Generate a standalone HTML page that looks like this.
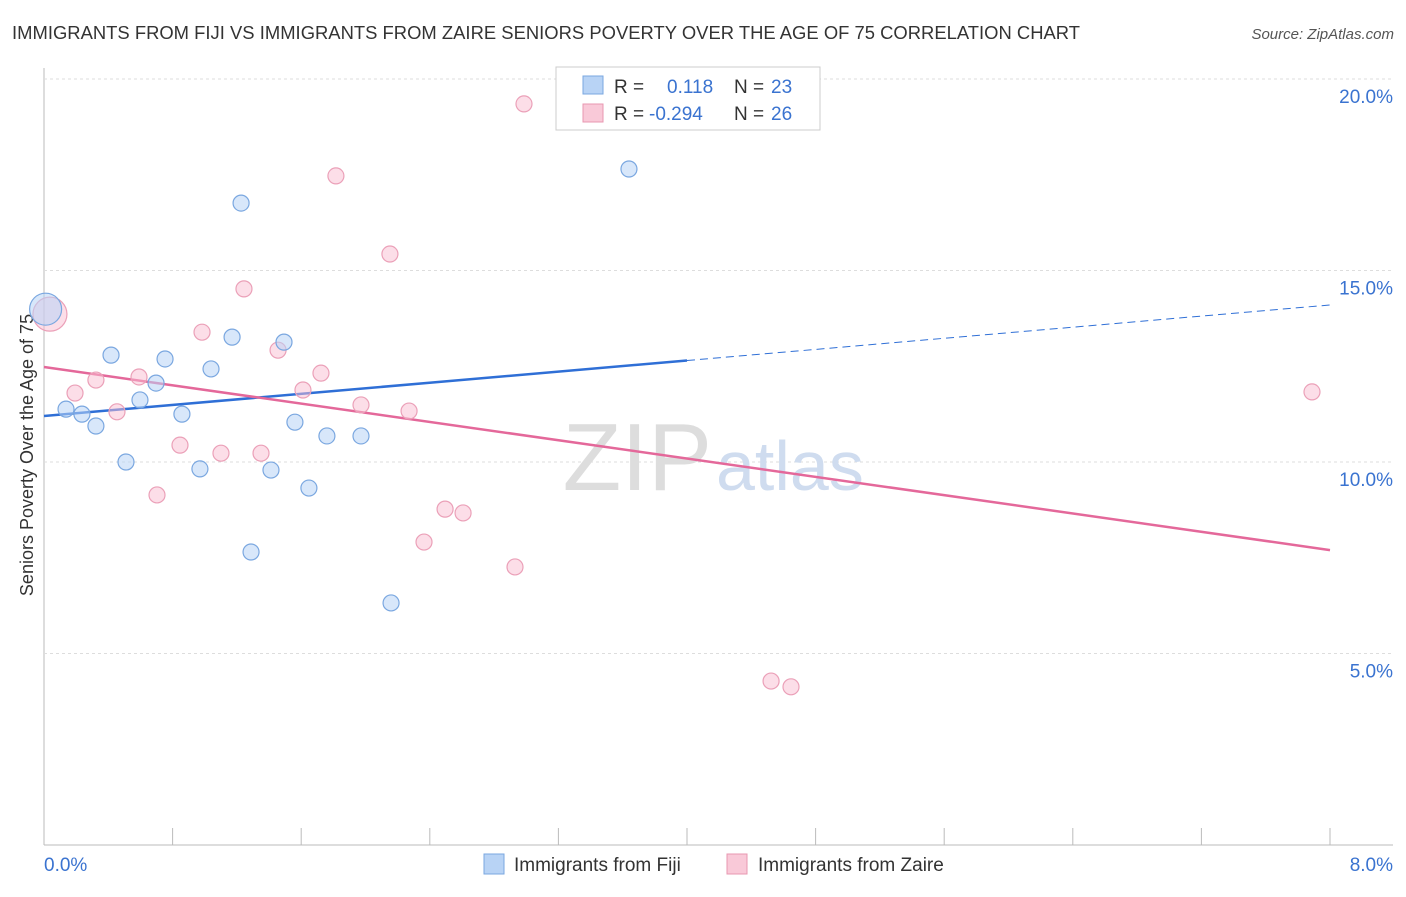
<!DOCTYPE html>
<html><head><meta charset="utf-8"><style>
body{margin:0;background:#fff;font-family:"Liberation Sans",sans-serif;}
svg text{font-family:"Liberation Sans",sans-serif;}
</style></head><body>
<svg id="chart" width="1406" height="892">
<text x="12" y="39" font-size="18.4" fill="#333" textLength="1068">IMMIGRANTS FROM FIJI VS IMMIGRANTS FROM ZAIRE SENIORS POVERTY OVER THE AGE OF 75 CORRELATION CHART</text>
<text x="1394" y="39" font-size="15" fill="#555" text-anchor="end" font-style="italic">Source: ZipAtlas.com</text>
<text x="33" y="455" font-size="18" fill="#333" text-anchor="middle" transform="rotate(-90 33 455)">Seniors Poverty Over the Age of 75</text>
<g id="grid"></g>
<text x="712" y="490" font-size="96" fill="#ddd" text-anchor="end" font-family="Liberation Serif">ZIP</text>
<text x="716" y="490" font-size="70" fill="#cfdcef">atlas</text>
<g id="lines"></g>
<g id="points"></g>
<g>
<rect x="556" y="67" width="264" height="63" fill="#fff" stroke="#ccc"/>
<rect x="583" y="76" width="20" height="18" fill="#b8d3f5" stroke="#7aa7e0"/>
<text x="614" y="93" font-size="19" fill="#333">R =</text><text x="667" y="93" font-size="19" fill="#3a73d0">0.118</text>
<text x="734" y="93" font-size="19" fill="#333">N =</text><text x="771" y="93" font-size="19" fill="#3a73d0">23</text>
<rect x="583" y="104" width="20" height="18" fill="#f9c9d8" stroke="#e897b0"/>
<text x="614" y="120" font-size="19" fill="#333">R =</text><text x="649" y="120" font-size="19" fill="#3a73d0">-0.294</text>
<text x="734" y="120" font-size="19" fill="#333">N =</text><text x="771" y="120" font-size="19" fill="#3a73d0">26</text>
</g>
<g>
<rect x="484" y="854" width="20" height="20" fill="#b8d3f5" stroke="#7aa7e0"/>
<text x="514" y="871" font-size="19" fill="#333">Immigrants from Fiji</text>
<rect x="727" y="854" width="20" height="20" fill="#f9c9d8" stroke="#e897b0"/>
<text x="758" y="871" font-size="19" fill="#333">Immigrants from Zaire</text>
</g>
</svg>
<script>
const xTicks=[0,0.8,1.6,2.4,3.2,4.0,4.8,5.6,6.4,7.2,8.0];
const yTicks=[5,10,15,20];
const fijiX=[0.01,0.137,0.236,0.323,0.417,0.51,0.597,0.697,0.753,0.858,0.97,1.039,1.17,1.226,1.288,1.412,1.493,1.561,1.648,1.76,1.972,2.159,3.639];
const fijiY=[13.99,11.38,11.25,10.94,12.79,10.0,11.62,12.06,12.69,11.25,9.82,12.43,13.26,16.76,7.65,9.79,13.13,11.04,9.32,10.68,10.68,6.32,17.65];
const zaireX=[0.037,0.193,0.323,0.454,0.591,0.703,0.846,0.983,1.101,1.244,1.35,1.456,1.611,1.723,1.816,1.972,2.152,2.271,2.364,2.495,2.607,2.93,2.986,4.523,4.647,7.888];
const zaireY=[13.86,11.8,12.14,11.31,12.22,9.14,10.44,13.39,10.23,14.52,10.23,12.92,11.88,12.32,17.47,11.49,15.43,11.33,7.91,8.77,8.67,7.26,19.35,4.28,4.13,11.83];
const fijiTrend=[11.2,14.1];
const zaireTrend=[12.48,7.7];
const NS="http://www.w3.org/2000/svg";
const X=v=>44+v*160.75, Y=v=>845-v*38.3;
function mk(t,a,p){const e=document.createElementNS(NS,t);for(const k in a)e.setAttribute(k,a[k]);p.appendChild(e);return e;}
const grid=document.getElementById('grid');
mk('line',{x1:44,y1:845,x2:1393,y2:845,stroke:'#bbb'},grid);
mk('line',{x1:44,y1:68,x2:44,y2:845,stroke:'#bbb'},grid);
yTicks.forEach(t=>{
 const l=mk('line',{x1:44,y1:Y(t),x2:1393,y2:Y(t),stroke:'#ddd','stroke-dasharray':'3,3'},grid);
 
 
 const tx=mk('text',{x:1393,y:Y(t)+24,'font-size':19,fill:'#3a73d0','text-anchor':'end'},grid);
 tx.textContent=t.toFixed(1)+'%';
 
 
});
xTicks.forEach(t=>{
 const l=mk('line',{x1:X(t),y1:828,x2:X(t),y2:845,stroke:'#bbb'},grid);
 
 
});
[[0,'start',44],[8,'end',1393]].forEach(([v,a,x])=>{
 const tx=mk('text',{x:x,y:871,'font-size':19,fill:'#3a73d0','text-anchor':a},grid);
 tx.textContent=v.toFixed(1)+'%';
 
 
});
const lines=document.getElementById('lines');
const f=x=>fijiTrend[0]+(fijiTrend[1]-fijiTrend[0])*x/8;
const z=x=>zaireTrend[0]+(zaireTrend[1]-zaireTrend[0])*x/8;
let l1=mk('line',{x1:X(0),y1:Y(f(0)),x2:X(4),y2:Y(f(4)),stroke:'#2f6fd6','stroke-width':2.5},lines);


let l2=mk('line',{x1:X(4),y1:Y(f(4)),x2:X(8),y2:Y(f(8)),stroke:'#2f6fd6','stroke-width':1,'stroke-dasharray':'8,5'},lines);


let l3=mk('line',{x1:X(0),y1:Y(z(0)),x2:X(8),y2:Y(z(8)),stroke:'#e4689a','stroke-width':2.5},lines);


const pts=document.getElementById('points');
zaireX.forEach((x,i)=>{
 const c=mk('circle',{cx:X(x),cy:Y(zaireY[i]),r:i==0?17:8,fill:'rgba(249,190,210,0.5)',stroke:'#eba0b8','stroke-width':1.2},pts);
 
 
});
fijiX.forEach((x,i)=>{
 const c=mk('circle',{cx:X(x),cy:Y(fijiY[i]),r:i==0?16:8,fill:'rgba(184,211,245,0.55)',stroke:'#7aa7e0','stroke-width':1.2},pts);
 
 
});
</script>
</body></html>
